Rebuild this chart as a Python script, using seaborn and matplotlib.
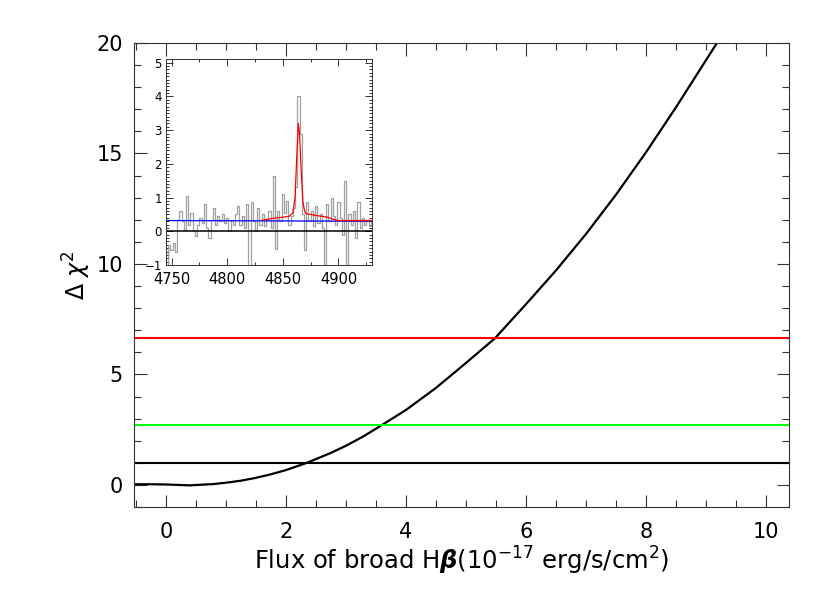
import numpy as np
import pandas as pd
import matplotlib
matplotlib.use('Agg')
import matplotlib.pyplot as plt
from matplotlib.ticker import MultipleLocator
import seaborn as sns

# Delta chi^2 curve
flux = [-0.5, -0.25, 0.0, 0.2, 0.4, 0.6, 0.8, 1.0, 1.25, 1.5, 1.75, 2.0, 2.35,
        2.75, 3.0, 3.3, 3.6, 4.0, 4.5, 5.0, 5.48, 6.0, 6.5, 7.0, 7.5, 8.0, 8.5, 9.18, 9.6]
dchi2 = [0.03, 0.03, 0.02, 0.0, -0.02, 0.01, 0.04, 0.1, 0.19, 0.32, 0.48, 0.67, 1.0,
         1.45, 1.77, 2.21, 2.71, 3.39, 4.39, 5.52, 6.63, 8.18, 9.71, 11.36, 13.14, 15.06, 17.1, 20.0, 22.06]

# confidence levels
levels = [1.0, 2.71, 6.63]
level_colors = ['black', '#00ff00', '#ff0000']

# inset spectrum (2 A bins)
wave = list(range(4746, 4931, 2))
spec = [-1.3, -0.4, -0.55, -0.35, -0.6, 0.33, 0.6, 0.3, 0.05, 1.04,
        0.2, 0.55, 0.0, -0.15, 0.2, 0.4, 0.25, 0.8, 0.1, -0.2,
        0.35, 0.7, 0.2, 0.45, 0.3, 0.5, 0.25, 0.4, 0.0, 0.35,
        0.2, 0.5, 0.75, 0.2, 0.45, 0.1, 0.8, -1.3, 0.86, 0.3,
        0.0, 0.7, 0.2, 0.5, 0.15, 0.35, 0.6, 0.1, 1.64, -0.53,
        0.6, 0.3, 1.1, 0.55, 0.9, 0.2, 0.45, 0.7, 1.3, 4.0,
        2.9, 0.5, -0.55, 0.86, 0.3, 0.6, 0.15, 0.75, 0.25, 0.5,
        0.1, -1.3, 0.8, 0.3, 1.0, 0.45, 0.2, 0.88, 0.4, -0.1,
        1.5, -1.3, 0.5, 0.2, 0.6, -0.2, 0.86, 0.1, 0.4, 0.2,
        0.35, 0.15, 0.3]

# model fit (red) and continuum (blue)
model_wave = [4832, 4840, 4850, 4856, 4859, 4861, 4862.5, 4864, 4865, 4866.5,
              4868, 4869.5, 4871, 4875, 4880, 4890, 4895, 4900, 4930]
model_flux = [0.33, 0.38, 0.42, 0.45, 0.55, 1.0, 2.2, 3.2, 2.9, 1.8,
              0.9, 0.6, 0.52, 0.5, 0.47, 0.42, 0.36, 0.32, 0.32]
cont_wave = [4745, 4930]
cont_flux = [0.32, 0.30]

sns.set_style('ticks')
plt.rcParams['font.family'] = ['DejaVu Sans']
plt.rcParams['mathtext.fontset'] = 'dejavusans'
plt.rcParams['text.color'] = 'black'
plt.rcParams['axes.labelcolor'] = 'black'

fig = plt.figure(figsize=(8.3, 5.93), dpi=100)
ax = fig.add_axes([0.1614, 0.145, 0.7892, 0.7825])

df = pd.DataFrame({'flux': flux, 'dchi2': dchi2})
sns.lineplot(data=df, x='flux', y='dchi2', color='black', linewidth=1.6, ax=ax)
for lev, col in zip(levels, level_colors):
    ax.axhline(lev, color=col, linewidth=1.5)

ax.set_xlim(-0.53, 10.38)
ax.set_ylim(-1, 20)
ax.xaxis.set_major_locator(MultipleLocator(2))
ax.xaxis.set_minor_locator(MultipleLocator(0.5))
ax.yaxis.set_major_locator(MultipleLocator(5))
ax.yaxis.set_minor_locator(MultipleLocator(1))
ax.tick_params(which='both', direction='in', top=True, right=True, colors='#333333',
               labelcolor='black', width=0.8)
ax.tick_params(which='major', length=9, labelsize=15)
ax.tick_params(axis='x', which='major', pad=11)
ax.tick_params(axis='y', which='major', pad=8)
ax.tick_params(which='minor', length=5)
for s in ax.spines.values():
    s.set_linewidth(0.8)
    s.set_color('#333333')
ax.set_xlabel(r'Flux of broad H$\boldsymbol{\beta}$(10$^{-17}$ erg/s/cm$^2$)', fontsize=17.5, labelpad=2)
ax.set_ylabel(r'$\Delta\ \chi^2$', fontsize=17)
ax.yaxis.set_label_coords(-0.062, 0.5)

# inset
ins = fig.add_axes([0.2, 0.553, 0.248, 0.347])
sdf = pd.DataFrame({'wave': wave, 'spec': spec})
sns.lineplot(data=sdf, x='wave', y='spec', color='#a0a0a0', linewidth=0.9,
             drawstyle='steps-mid', ax=ins)
ins.axhline(0, color='black', linewidth=1.1)
sns.lineplot(x=cont_wave, y=cont_flux, color='#0000ff', linewidth=0.9, ax=ins)
sns.lineplot(x=model_wave, y=model_flux, color='#ff0000', linewidth=0.9, ax=ins)
ins.set_xlim(4745, 4930)
ins.set_ylim(-1, 5.1)
ins.xaxis.set_major_locator(MultipleLocator(50))
ins.xaxis.set_minor_locator(MultipleLocator(25))
ins.yaxis.set_major_locator(MultipleLocator(1))
ins.yaxis.set_minor_locator(MultipleLocator(0.1))
ins.tick_params(which='both', direction='in', top=True, right=True, colors='#333333',
                labelcolor='black', width=0.7)
ins.tick_params(axis='x', which='major', length=5, labelsize=10.5, pad=5)
ins.tick_params(axis='y', which='major', length=5, labelsize=8.5, pad=3)
ins.tick_params(which='minor', length=2.5)
for s in ins.spines.values():
    s.set_linewidth(0.7)
    s.set_color('#333333')
ins.set_xlabel('')
ins.set_ylabel('')

fig.savefig('out.png', dpi=100)
